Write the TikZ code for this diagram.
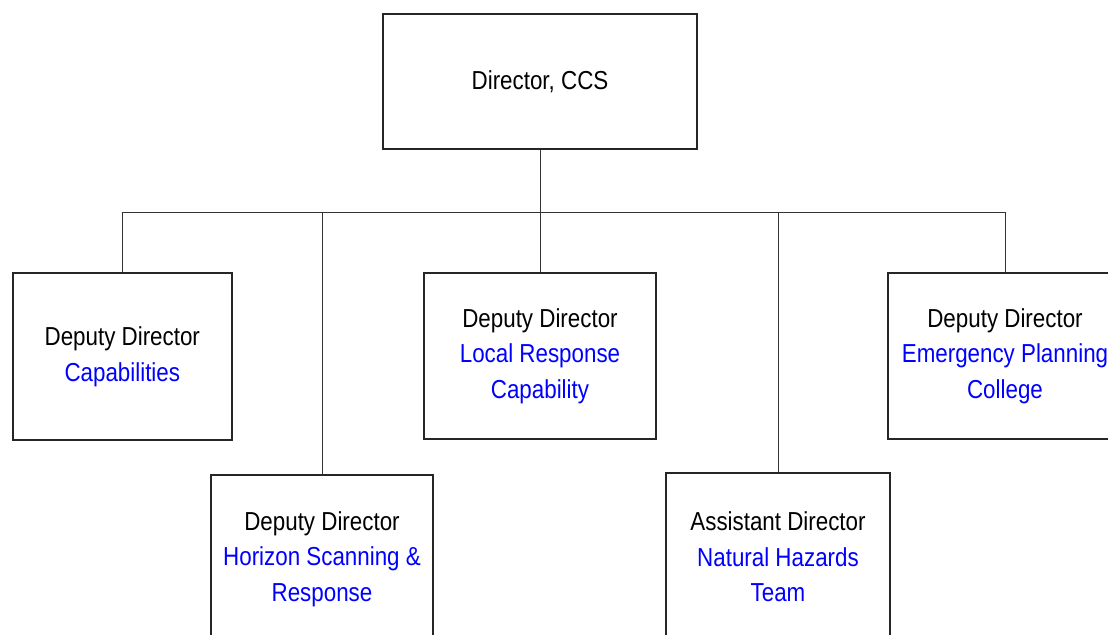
\documentclass[tikz,border=0pt]{standalone}
\usepackage{fontspec}
\setmainfont[FakeStretch=0.86]{Liberation Sans}
\usepackage{tikz}

\tikzset{
    postbox/.style={draw=black!85, line width=0.8pt, fill=white, align=center,
        inner sep=2pt, font=\fontsize{13}{17.8}\selectfont},
    link/.style={draw=black!80, line width=0.5pt},
}
\newcommand{\unit}[1]{\textcolor{blue}{#1}}

\begin{document}
\begin{tikzpicture}[x=0.5pt, y=-0.5pt]
    \useasboundingbox (0,0) rectangle (1108,634);
    \clip (0,0) rectangle (1108,634);

    % Top post
    \node[postbox, minimum width=157pt, minimum height=67.5pt] (dir) at (540,81.5) {Director, CCS};
    \coordinate (bus) at (540,212);

    % Deputy directors, upper row
    \node[postbox, minimum width=109.5pt, minimum height=83.5pt] (cap) at (122.3,356.5)
        {Deputy Director\\ \unit{Capabilities}};
    \node[postbox, minimum width=116pt, minimum height=83pt] (lrc) at (540,356)
        {Deputy Director\\ \unit{Local Response}\\ \unit{Capability}};
    \node[postbox, minimum width=117pt, minimum height=83pt] (epc) at (1005,356)
        {Deputy Director\\ \unit{Emergency Planning}\\ \unit{College}};

    % Lower row
    \node[postbox, minimum width=111pt, minimum height=84pt] (hsr) at (322,559)
        {Deputy Director\\ \unit{Horizon Scanning \&}\\ \unit{Response}};
    \node[postbox, minimum width=112pt, minimum height=84pt] (nht) at (778,557)
        {Assistant Director\\ \unit{Natural Hazards}\\ \unit{Team}};

    % Connectors
    \draw[link] (dir.south) -- (bus);
    \draw[link] (cap.north |- bus) -- (epc.north |- bus);
    \foreach \post in {cap,lrc,epc,hsr,nht}
        \draw[link] (\post.north |- bus) -- (\post.north);
\end{tikzpicture}
\end{document}
